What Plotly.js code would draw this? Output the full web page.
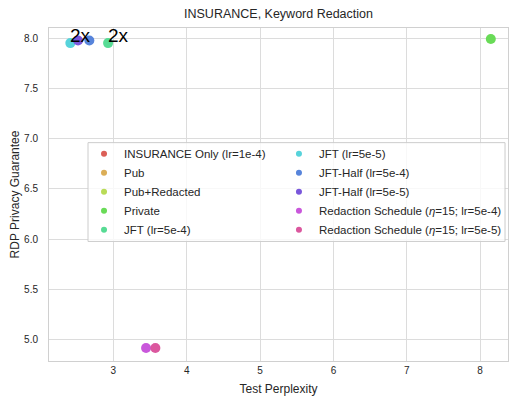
<!DOCTYPE html>
<html><head><meta charset="utf-8">
<script src="https://cdn.plot.ly/plotly-3.0.1.min.js"></script>
<style>html,body{margin:0;padding:0;background:#fff}#chart{width:509px;height:403px}</style>
</head><body><div id="chart"></div>
<script>
const seriesNames = ["INSURANCE Only (lr=1e-4)","Pub","Pub+Redacted","Private","JFT (lr=5e-4)","JFT (lr=5e-5)","JFT-Half (lr=5e-4)","JFT-Half (lr=5e-5)","Redaction Schedule (<i>η</i>=15; lr=5e-4)","Redaction Schedule (<i>η</i>=15; lr=5e-5)"];
const seriesColors = ["#db5f57","#dbae57","#b9db57","#69db57","#57db94","#57d3db","#5784db","#7957db","#c957db","#db579e"];
const perplexity = [null,null,null,8.146,2.928,2.414,2.673,2.519,3.446,3.573];
const privacy = [null,null,null,7.99,7.95,7.95,7.976,7.976,4.92,4.92];
const annotLabels = [{idx:5,text:"2x"},{idx:4,text:"2x"}];

const font = "Liberation Sans, Arial, sans-serif";
const traces = [];
for (let i=0;i<seriesNames.length;i++){
  traces.push({x:[perplexity[i]],y:[privacy[i]],type:'scatter',mode:'markers',
    marker:{color:seriesColors[i],size:10},showlegend:false,hoverinfo:'skip',cliponaxis:false});
}
for (let i=0;i<seriesNames.length;i++){
  traces.push({x:[null],y:[null],type:'scatter',mode:'markers',name:seriesNames[i],
    marker:{color:seriesColors[i],size:6},showlegend:true,legend: i<5?'legend':'legend2'});
}
const annotations = annotLabels.map(a=>({x:perplexity[a.idx],y:privacy[a.idx],xref:'x',yref:'y',text:a.text,
  showarrow:false,xanchor:'left',yanchor:'bottom',xshift:-2,yshift:-5,font:{family:font,size:19,color:'#000'}}));
const legStyle = {font:{family:font,size:11.5,color:'#262626'},bgcolor:'rgba(0,0,0,0)',borderwidth:0,
  xanchor:'left',yanchor:'top',tracegroupgap:0,itemclick:false};
const layout = {
  width:509,height:403,
  margin:{l:49,r:1,t:28,b:42},
  paper_bgcolor:'#fff',plot_bgcolor:'#fff',
  title:{text:'INSURANCE, Keyword Redaction',font:{family:font,size:12.5,color:'#262626'},x:0.5,xref:'paper',y:0.965,yanchor:'middle'},
  xaxis:{range:[2.123,8.38],tickvals:[3,4,5,6,7,8],ticktext:['3','4','5','6','7','8'],
    showgrid:true,gridcolor:'#dcdcdc',gridwidth:1,zeroline:false,showline:true,linecolor:'#d0d0d0',linewidth:1,mirror:true,
    ticks:'',tickfont:{family:font,size:10,color:'#262626'},
    title:{text:'Test Perplexity',font:{family:font,size:12,color:'#262626'},standoff:9}},
  yaxis:{range:[4.79,8.10],tickvals:[5,5.5,6,6.5,7,7.5,8],ticktext:['5.0','5.5','6.0','6.5','7.0','7.5','8.0'],
    showgrid:true,gridcolor:'#dcdcdc',gridwidth:1,zeroline:false,showline:true,linecolor:'#d0d0d0',linewidth:1,mirror:true,
    ticks:'',ticklabelstandoff:8,tickfont:{family:font,size:10,color:'#262626'},
    title:{text:'RDP Privacy Guarantee',font:{family:font,size:12,color:'#262626'},standoff:1}},
  legend:Object.assign({x:0.0763,y:0.666},legStyle),
  legend2:Object.assign({x:0.501,y:0.666},legStyle),
  shapes:[{type:'rect',xref:'paper',yref:'paper',x0:0.085,x1:0.9935,y0:0.359,y1:0.6557,
    line:{color:'#cccccc',width:1},fillcolor:'rgba(255,255,255,0.8)',layer:'above'}],
  annotations:annotations,
  showlegend:true
};
Plotly.newPlot('chart',traces,layout,{staticPlot:true});
</script></body></html>
